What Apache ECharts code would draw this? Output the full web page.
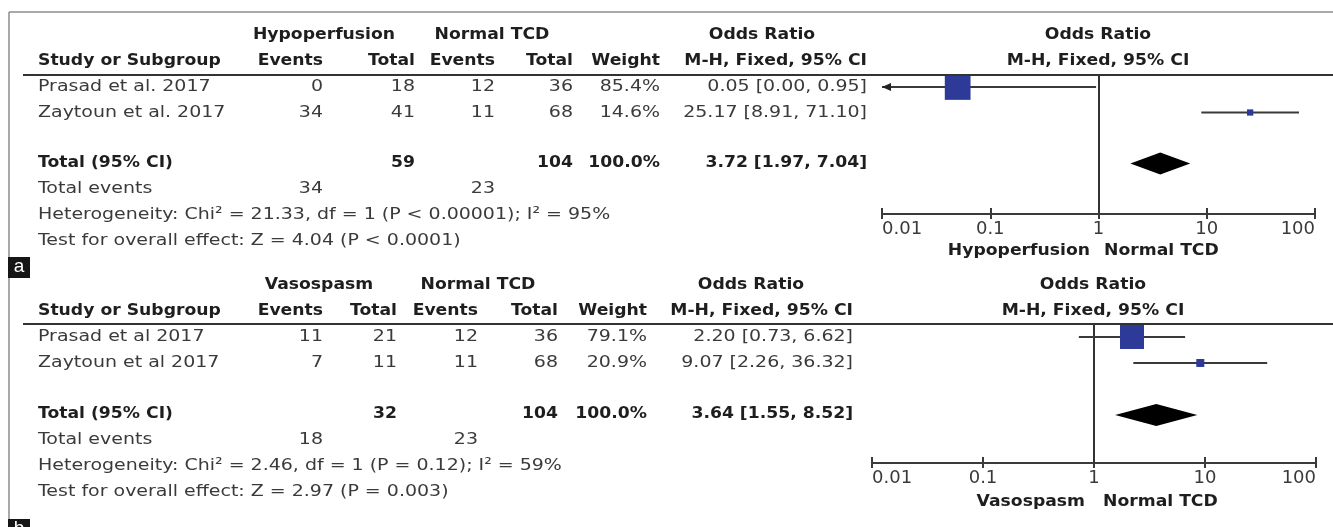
<!DOCTYPE html>
<html><head><meta charset="utf-8">
<script src="https://cdn.jsdelivr.net/npm/echarts@6/dist/echarts.min.js"></script>
<style>html,body{margin:0;padding:0;background:#fff}#c{width:1333px;height:527px}</style>
</head><body><div id="c"></div><script>
// ---- tick labels of the odds-ratio axis ----
const tickValues = [0.01, 0.1, 1, 10, 100];
const tickLabels = ['0.01', '0.1', '1', '10', '100'];

// ---- panel a ----
const groupsA = ['Hypoperfusion', 'Normal TCD'];
const studiesA = ['Prasad et al. 2017', 'Zaytoun et al. 2017'];
const hypoEventsA = [0, 34];
const hypoTotalA = [18, 41];
const tcdEventsA = [12, 11];
const tcdTotalA = [36, 68];
const weightA = [85.4, 14.6];
const orA = [0.05, 25.17];
const ciLowA = [0.00, 8.91];
const ciHighA = [0.95, 71.10];
const pooledA = [3.72, 1.97, 7.04];
const sumTotalsA = [59, 104];
const sumEventsA = [34, 23];
const hetA = 'Heterogeneity: Chi² = 21.33, df = 1 (P < 0.00001); I² = 95%';
const testA = 'Test for overall effect: Z = 4.04 (P < 0.0001)';

// ---- panel b ----
const groupsB = ['Vasospasm', 'Normal TCD'];
const studiesB = ['Prasad et al 2017', 'Zaytoun et al 2017'];
const vasoEventsB = [11, 7];
const vasoTotalB = [21, 11];
const tcdEventsB = [12, 11];
const tcdTotalB = [36, 68];
const weightB = [79.1, 20.9];
const orB = [2.20, 9.07];
const ciLowB = [0.73, 2.26];
const ciHighB = [6.62, 36.32];
const pooledB = [3.64, 1.55, 8.52];
const sumTotalsB = [32, 104];
const sumEventsB = [18, 23];
const hetB = 'Heterogeneity: Chi² = 2.46, df = 1 (P = 0.12); I² = 59%';
const testB = 'Test for overall effect: Z = 2.97 (P = 0.003)';

const panels = [
  { tag: 'a', groups: groupsA, studies: studiesA, expE: hypoEventsA, expT: hypoTotalA, ctlE: tcdEventsA, ctlT: tcdTotalA,
    weight: weightA, or: orA, lo: ciLowA, hi: ciHighA, pooled: pooledA, totals: sumTotalsA, events: sumEventsA, het: hetA, test: testA,
    L: { h1: 35, h2: 61, rows: [87, 113, 163, 189, 215, 241], cols: [323, 415, 495, 573, 660, 867], heads: [324, 492, 762],
         fc: 1098, leg: 251, legR: 1090, legL: 1104, line: 75, gLeft: 882, gWidth: 433, gTop: 75, gH: 139, yMin: -0.47, yMax: 4.98,
         box: [8, 257, 22, 21], boxText: 267 } },
  { tag: 'b', groups: groupsB, studies: studiesB, expE: vasoEventsB, expT: vasoTotalB, ctlE: tcdEventsB, ctlT: tcdTotalB,
    weight: weightB, or: orB, lo: ciLowB, hi: ciHighB, pooled: pooledB, totals: sumTotalsB, events: sumEventsB, het: hetB, test: testB,
    L: { h1: 285, h2: 311, rows: [337, 363, 414, 440, 466, 492], cols: [323, 397, 478, 558, 647, 853], heads: [319, 478, 751],
         fc: 1093, leg: 502, legR: 1085, legL: 1103, line: 324, gLeft: 872, gWidth: 444, gTop: 324, gH: 139, yMin: -0.5, yMax: 4.85,
         box: [8, 519, 22, 12], boxText: 529 } }
];

const NORM = { size: 16.5, sx: 1.15, color: '#3a3a3a', weight: 'normal' };
const BOLD = { size: 15.5, sx: 1.11, color: '#1e1e1e', weight: 'bold' };
function T(x, y, s, f, align) {
  return { type: 'text', x: x, y: y, scaleX: f.sx, silent: true, z: 10,
    style: { text: String(s), fontSize: f.size, fontFamily: 'DejaVu Sans', fontWeight: f.weight, fill: f.color,
             textAlign: align || 'left', textVerticalAlign: 'middle' } };
}
function L(x1, y1, x2, y2, color, w) {
  return { type: 'line', silent: true, z: 8, shape: { x1, y1, x2, y2 }, style: { stroke: color, lineWidth: w } };
}
const fmt = v => v.toFixed(2);
const orText = (e, lo, hi) => fmt(e) + ' [' + fmt(lo) + ', ' + fmt(hi) + ']';

const graphic = [];
graphic.push(L(9, 12, 1333, 12, '#8c8c8c', 1.5));
graphic.push(L(9, 12, 9, 527, '#8c8c8c', 1.5));

const grid = [], xAxis = [], yAxis = [], series = [];

function tickFmt(v) {
  const i = tickValues.findIndex(t => Math.abs(Math.log10(t) - Math.log10(v)) < 1e-6);
  return i >= 0 ? tickLabels[i] : '';
}

function studyRender(params, api) {
  const row = api.value(0), est = api.value(1), lo = api.value(2), hi = api.value(3), w = api.value(4);
  const axisMin = tickValues[0];
  const clipped = lo < axisMin;
  const pLo = api.coord([clipped ? axisMin : lo, row]);
  const pHi = api.coord([hi, row]);
  const pE = api.coord([est, row]);
  const side = 2.25 + w * 0.275;
  const children = [
    { type: 'line', shape: { x1: pLo[0], y1: pLo[1], x2: pHi[0], y2: pHi[1] }, style: { stroke: '#3a3a3a', lineWidth: 2 } },
    { type: 'rect', shape: { x: pE[0] - side / 2, y: pE[1] - side / 2, width: side, height: side }, style: { fill: '#2e3a98' } }
  ];
  if (clipped) {
    children.push({ type: 'polygon', shape: { points: [[pLo[0], pLo[1]], [pLo[0] + 9, pLo[1] - 4], [pLo[0] + 9, pLo[1] + 4]] }, style: { fill: '#222' } });
  }
  return { type: 'group', children };
}
function diamondRender(params, api) {
  const row = api.value(0);
  const pE = api.coord([api.value(1), row]);
  const pLo = api.coord([api.value(2), row]);
  const pHi = api.coord([api.value(3), row]);
  const h = 11;
  return { type: 'polygon', shape: { points: [[pLo[0], pLo[1]], [pE[0], pE[1] - h], [pHi[0], pHi[1]], [pE[0], pE[1] + h]] }, style: { fill: '#000' } };
}

panels.forEach((p, k) => {
  const Lo = p.L, c = Lo.cols, r = Lo.rows;
  graphic.push(T(Lo.heads[0], Lo.h1, p.groups[0], BOLD, 'center'));
  graphic.push(T(Lo.heads[1], Lo.h1, p.groups[1], BOLD, 'center'));
  graphic.push(T(Lo.heads[2], Lo.h1, 'Odds Ratio', BOLD, 'center'));
  graphic.push(T(Lo.fc, Lo.h1, 'Odds Ratio', BOLD, 'center'));
  graphic.push(T(38, Lo.h2, 'Study or Subgroup', BOLD, 'left'));
  graphic.push(T(c[0], Lo.h2, 'Events', BOLD, 'right'));
  graphic.push(T(c[1], Lo.h2, 'Total', BOLD, 'right'));
  graphic.push(T(c[2], Lo.h2, 'Events', BOLD, 'right'));
  graphic.push(T(c[3], Lo.h2, 'Total', BOLD, 'right'));
  graphic.push(T(c[4], Lo.h2, 'Weight', BOLD, 'right'));
  graphic.push(T(c[5], Lo.h2, 'M-H, Fixed, 95% CI', BOLD, 'right'));
  graphic.push(T(Lo.fc, Lo.h2, 'M-H, Fixed, 95% CI', BOLD, 'center'));
  graphic.push(L(23, Lo.line, 1333, Lo.line, '#333', 2));
  p.studies.forEach((s, i) => {
    graphic.push(T(38, r[i], s, NORM, 'left'));
    graphic.push(T(c[0], r[i], p.expE[i], NORM, 'right'));
    graphic.push(T(c[1], r[i], p.expT[i], NORM, 'right'));
    graphic.push(T(c[2], r[i], p.ctlE[i], NORM, 'right'));
    graphic.push(T(c[3], r[i], p.ctlT[i], NORM, 'right'));
    graphic.push(T(c[4], r[i], p.weight[i].toFixed(1) + '%', NORM, 'right'));
    graphic.push(T(c[5], r[i], orText(p.or[i], p.lo[i], p.hi[i]), NORM, 'right'));
  });
  const wSum = p.weight.reduce((a, b) => a + b, 0);
  graphic.push(T(38, r[2], 'Total (95% CI)', BOLD, 'left'));
  graphic.push(T(c[1], r[2], p.totals[0], BOLD, 'right'));
  graphic.push(T(c[3], r[2], p.totals[1], BOLD, 'right'));
  graphic.push(T(c[4], r[2], wSum.toFixed(1) + '%', BOLD, 'right'));
  graphic.push(T(c[5], r[2], orText(p.pooled[0], p.pooled[1], p.pooled[2]), BOLD, 'right'));
  graphic.push(T(38, r[3], 'Total events', NORM, 'left'));
  graphic.push(T(c[0], r[3], p.events[0], NORM, 'right'));
  graphic.push(T(c[2], r[3], p.events[1], NORM, 'right'));
  graphic.push(T(38, r[4], p.het, NORM, 'left'));
  graphic.push(T(38, r[5], p.test, NORM, 'left'));
  graphic.push(T(Lo.legR, Lo.leg, p.groups[0], BOLD, 'right'));
  graphic.push(T(Lo.legL, Lo.leg, p.groups[1], BOLD, 'left'));
  graphic.push({ type: 'rect', silent: true, z: 20, shape: { x: Lo.box[0], y: Lo.box[1], width: Lo.box[2], height: Lo.box[3] }, style: { fill: '#161616' } });
  graphic.push({ type: 'text', silent: true, z: 21, x: Lo.box[0] + Lo.box[2] / 2, y: Lo.boxText,
    style: { text: p.tag, fontSize: 19, fontFamily: 'Liberation Sans', fill: '#fff', textAlign: 'center', textVerticalAlign: 'middle' } });

  grid.push({ left: Lo.gLeft, top: Lo.gTop, width: Lo.gWidth, height: Lo.gH, containLabel: false });
  const axBase = { gridIndex: k, type: 'log', logBase: 10, min: tickValues[0], max: tickValues[tickValues.length - 1], position: 'bottom',
    splitLine: { show: false }, minorTick: { show: false }, minorSplitLine: { show: false } };
  xAxis.push(Object.assign({}, axBase, {
    axisLine: { show: true, onZero: false, lineStyle: { color: '#3a3a3a', width: 2 } },
    axisTick: { show: true, inside: false, length: 5, lineStyle: { color: '#3a3a3a', width: 2 } },
    axisLabel: { show: true, margin: 6, fontSize: 18, color: '#3a3a3a', fontFamily: 'DejaVu Sans',
      alignMinLabel: 'left', alignMaxLabel: 'right', formatter: tickFmt, showMinLabel: true, showMaxLabel: true }
  }));
  xAxis.push(Object.assign({}, axBase, {
    axisLine: { show: false, onZero: false },
    axisTick: { show: true, inside: true, length: 6, lineStyle: { color: '#3a3a3a', width: 2 } },
    axisLabel: { show: false }
  }));
  yAxis.push({ gridIndex: k, type: 'value', min: Lo.yMin, max: Lo.yMax, inverse: true, show: false });

  series.push({ type: 'custom', xAxisIndex: 2 * k, yAxisIndex: k, clip: false, z: 5, renderItem: studyRender,
    encode: { x: 1, y: 0 }, data: p.studies.map((s, i) => [i, p.or[i], p.lo[i], p.hi[i], p.weight[i]]) });
  series.push({ type: 'custom', xAxisIndex: 2 * k, yAxisIndex: k, clip: false, z: 4, renderItem: diamondRender,
    encode: { x: 1, y: 0 }, data: [[3, p.pooled[0], p.pooled[1], p.pooled[2]]],
    markLine: { silent: true, symbol: ['none', 'none'], label: { show: false }, animation: false,
      lineStyle: { color: '#333', width: 2, type: 'solid' }, data: [{ xAxis: 1 }] } });
});

const chart = echarts.init(document.getElementById('c'), null, { renderer: 'canvas' });
chart.setOption({ animation: false, backgroundColor: '#fff', grid, xAxis, yAxis, series, graphic });
</script></body></html>
